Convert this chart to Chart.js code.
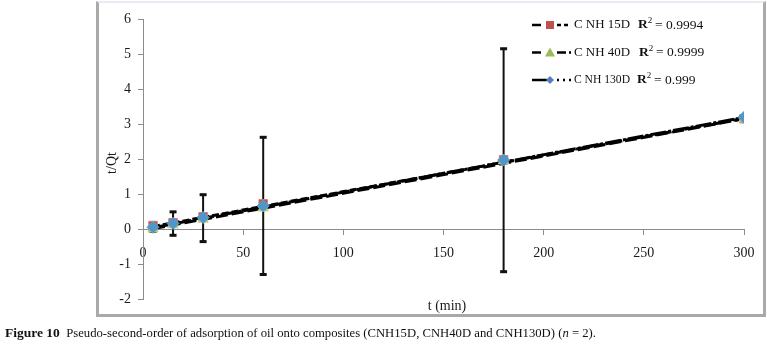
<!DOCTYPE html>
<html>
<head>
<meta charset="utf-8">
<script src="https://cdn.jsdelivr.net/npm/chart.js@4.4.1/dist/chart.umd.min.js"></script>
<style>
  body { margin: 0; background: #fff; }
  #wrap { position: relative; width: 767px; height: 347px; overflow: hidden; }
  #frame { position: absolute; left: 96px; top: 1px; width: 664px; height: 311px;
           border: 3px solid #a9a9a9; border-top: 2px solid #e6ecf2; }
  #c { position: absolute; left: 0; top: 0; }
  #caption { position: absolute; left: 5px; top: 325px; white-space: nowrap;
             font: 12.7px "Liberation Serif", "Times New Roman", serif; color: #111; }
  #caption b { font-size: 13.5px; }
</style>
</head>
<body>
<div id="wrap">
  <div id="frame"></div>
  <canvas id="c" width="767" height="347"></canvas>
  <div id="caption"><b>Figure 10</b>&nbsp; Pseudo-second-order of adsorption of oil onto composites (CNH15D, CNH40D and CNH130D) (<i>n</i> = 2).</div>
</div>
<script>
// time points (min)
var times = [5, 15, 30, 60, 180, 300];
// t/Qt per composite
var cnh15 = [0.10, 0.18, 0.35, 0.72, 1.98, 3.15];
var cnh40 = [0.00, 0.12, 0.28, 0.60, 1.95, 3.14];
var cnh130 = [0.05, 0.16, 0.33, 0.66, 1.97, 3.19];
// error bar ends
var errHigh = [0.13, 0.49, 0.98, 2.62, 5.15, null];
var errLow = [-0.07, -0.18, -0.36, -1.30, -1.22, null];
// fitted trend lines (start and end)
var trendX = [5, 300];
var trend15 = [0.07, 3.16];
var trend40 = [0.01, 3.15];
var trend130 = [0.04, 3.19];

var legendItems = [
  { name: 'C NH 15D', r2: '0.9994', color: '#c0504d', shape: 'rect', dash: [4, 3], rx: 638 },
  { name: 'C NH 40D', r2: '0.9999', color: '#9bbb59', shape: 'triangle', dash: [9, 3], rx: 639 },
  { name: 'C NH 130D', r2: '0.999', color: '#4f81bd', shape: 'rectRot', dash: [2, 4], rx: 637 }
];

function pts(xs, ys) {
  return xs.map(function (x, i) { return { x: x, y: ys[i] }; });
}

var serif = "'Liberation Serif', 'Times New Roman', serif";
Chart.defaults.font.family = serif;
Chart.defaults.font.size = 14;
Chart.defaults.color = '#1a1a1a';

var errorBars = {
  id: 'errorBars',
  beforeDatasetsDraw: function (chart) {
    var ctx = chart.ctx, xs = chart.scales.x, ys = chart.scales.y;
    ctx.save();
    ctx.strokeStyle = '#111';
    ctx.lineWidth = 2;
    times.forEach(function (t, i) {
      if (errHigh[i] === null) return;
      var px = xs.getPixelForValue(t);
      var top = ys.getPixelForValue(errHigh[i]);
      var bot = ys.getPixelForValue(errLow[i]);
      ctx.beginPath();
      ctx.moveTo(px, top); ctx.lineTo(px, bot);
      ctx.stroke();
      ctx.fillStyle = '#111';
      ctx.fillRect(px - 3.5, top - 1.5, 7, 3);
      ctx.fillRect(px - 3.5, bot - 1.5, 7, 3);
    });
    ctx.restore();
  }
};

var labels = {
  id: 'labels',
  afterDraw: function (chart) {
    var ctx = chart.ctx;
    ctx.save();
    ctx.fillStyle = '#1a1a1a';
    ctx.font = '14px ' + serif;
    ctx.textAlign = 'center';
    ctx.textBaseline = 'middle';
    ctx.fillText('t (min)', 447, 306);
    ctx.translate(112, 163);
    ctx.rotate(-Math.PI / 2);
    ctx.fillText('t/Qt', 0, 0);
    ctx.restore();

    // legend
    ctx.save();
    legendItems.forEach(function (it, i) {
      var y = 25 + i * 27.5;
      ctx.strokeStyle = '#000';
      ctx.lineWidth = 2.5;
      ctx.setLineDash([]);
      ctx.beginPath();
      ctx.moveTo(532, y); ctx.lineTo(i === 2 ? 547 : 541, y);
      ctx.stroke();
      ctx.setLineDash(it.dash);
      ctx.beginPath();
      ctx.moveTo(557, y); ctx.lineTo(571, y);
      ctx.stroke();
      ctx.setLineDash([]);
      ctx.fillStyle = it.color;
      ctx.beginPath();
      if (it.shape === 'rect') {
        ctx.rect(546, y - 4, 8, 8);
      } else if (it.shape === 'triangle') {
        ctx.moveTo(550, y - 5); ctx.lineTo(555, y + 4); ctx.lineTo(545, y + 4); ctx.closePath();
      } else {
        ctx.moveTo(550, y - 4); ctx.lineTo(554, y); ctx.lineTo(550, y + 4); ctx.lineTo(546, y); ctx.closePath();
      }
      ctx.fill();

      ctx.fillStyle = '#111';
      ctx.textAlign = 'left';
      ctx.textBaseline = 'middle';
      ctx.font = '13px ' + serif;
      ctx.fillText(it.name, 574, y, 56);
      var rx = it.rx;
      ctx.font = 'bold 13.5px ' + serif;
      ctx.fillText('R', rx, y);
      var w = ctx.measureText('R').width;
      ctx.font = '9px ' + serif;
      ctx.fillText('2', rx + w, y - 4);
      ctx.font = '13.5px ' + serif;
      ctx.fillText(' = ' + it.r2, rx + w + 4, y);
    });
    ctx.restore();
  }
};

function trendSet(ys, dash) {
  return {
    type: 'line', data: pts(trendX, ys), borderColor: '#000', borderWidth: 3,
    borderDash: dash, pointRadius: 0, fill: false, order: 4
  };
}

new Chart(document.getElementById('c'), {
  type: 'scatter',
  data: {
    datasets: [
      trendSet(trend15, [7, 3]),
      trendSet(trend40, [12, 4]),
      trendSet(trend130, [16, 2, 3, 2]),
      { label: 'C NH 15D', data: pts(times, cnh15), pointStyle: 'rect', pointRadius: 6,
        backgroundColor: '#c0504d', borderColor: '#d47a77', borderWidth: 1, order: 3 },
      { label: 'C NH 40D', data: pts(times, cnh40), pointStyle: 'triangle', pointRadius: 6,
        backgroundColor: '#b5c46a', borderColor: '#c9cf7c', borderWidth: 1, order: 2 },
      { label: 'C NH 130D', data: pts(times, cnh130), pointStyle: 'rectRot', pointRadius: 6,
        backgroundColor: '#4f97c9', borderColor: '#5a9fd0', borderWidth: 1, order: 1 }
    ]
  },
  options: {
    responsive: false,
    animation: false,
    layout: { padding: { left: 96, top: 19, right: 23, bottom: 48 } },
    plugins: { legend: { display: false }, tooltip: { enabled: false } },
    scales: {
      x: {
        type: 'linear', min: 0, max: 300, position: { y: 0 },
        ticks: { stepSize: 50, padding: 11, maxRotation: 0 },
        grid: { drawOnChartArea: false, drawTicks: true, tickLength: 5, color: '#8c8c8c' },
        border: { color: '#8c8c8c', width: 1 }
      },
      y: {
        type: 'linear', min: -2, max: 6,
        ticks: { stepSize: 1, padding: 7 },
        grid: { drawOnChartArea: false, drawTicks: true, tickLength: 5, color: '#8c8c8c' },
        border: { color: '#8c8c8c', width: 1 },
        afterFit: function (s) { s.width = 47; }
      }
    }
  },
  plugins: [errorBars, labels]
});
</script>
</body>
</html>
